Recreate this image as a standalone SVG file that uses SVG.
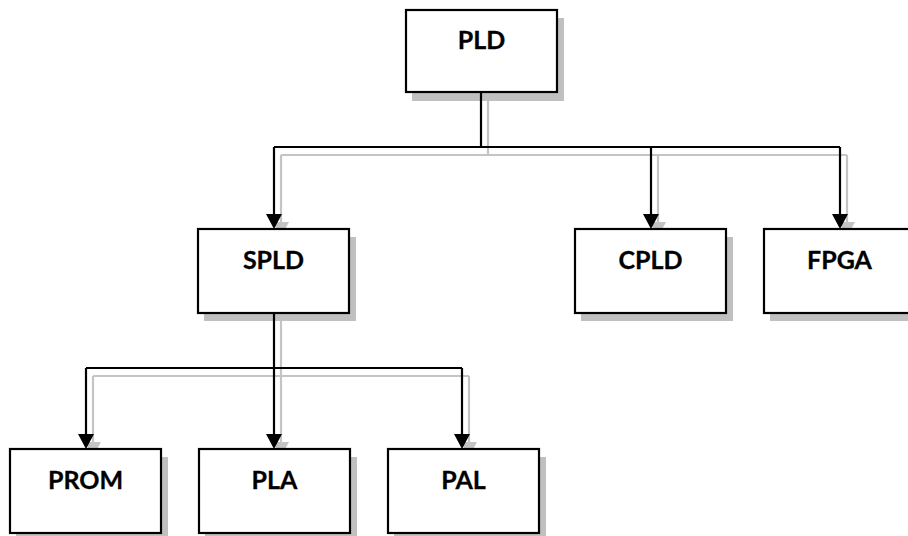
<svg xmlns="http://www.w3.org/2000/svg" xmlns:xlink="http://www.w3.org/1999/xlink" width="908" height="536" viewBox="0 0 908 536">
<style>
.box{fill:#fff;stroke:#000;stroke-width:2.2}
.shadow{fill:#c0c0c0;stroke:none}
.wire{fill:none;stroke:#000;stroke-width:2.2}
.wires{fill:none;stroke:#c4c4c4;stroke-width:2.2}
.lbl{font-family:Lato,"Liberation Sans",sans-serif;font-weight:bold;font-size:25px;text-anchor:middle;fill:#000;stroke:#000;stroke-width:0.3}
</style>
<defs>
<path id="ah" d="M-8,-15 L8,-15 L0,0 Z" fill="#000"/>
<path id="ahs" d="M-8,-15 L8,-15 L0,0 Z" fill="#c4c4c4"/>
</defs>
<rect width="908" height="536" fill="#fff"/>
<g id="connector-shadows">
<path class="wires" d="M488,100 V155 M281,155 H847 M281,155 V223 M658,155 V223 M847,155 V223"/>
<path class="wires" d="M281,321 V376 M93,376 H469 M93,376 V443 M281,376 V443 M469,376 V443"/>
<use xlink:href="#ahs" x="281" y="237"/>
<use xlink:href="#ahs" x="658" y="237"/>
<use xlink:href="#ahs" x="847" y="237"/>
<use xlink:href="#ahs" x="93" y="457"/>
<use xlink:href="#ahs" x="281" y="457"/>
<use xlink:href="#ahs" x="469" y="457"/>
</g>
<g id="box-shadows">
<rect class="shadow" x="412" y="18" width="152" height="83"/>
<rect class="shadow" x="204" y="237" width="152" height="84"/>
<rect class="shadow" x="581" y="237" width="152" height="84"/>
<rect class="shadow" x="770" y="237" width="152" height="84"/>
<rect class="shadow" x="16" y="457" width="152" height="84"/>
<rect class="shadow" x="205" y="457" width="152" height="84"/>
<rect class="shadow" x="394" y="457" width="152" height="84"/>
</g>
<g id="connectors">
<path class="wire" d="M481,92 V147 M274,147 H840 M274,147 V215 M651,147 V215 M840,147 V215"/>
<path class="wire" d="M274,313 V368 M86,368 H462 M86,368 V435 M274,368 V435 M462,368 V435"/>
<use xlink:href="#ah" x="274" y="229"/>
<use xlink:href="#ah" x="651" y="229"/>
<use xlink:href="#ah" x="840" y="229"/>
<use xlink:href="#ah" x="86" y="449"/>
<use xlink:href="#ah" x="274" y="449"/>
<use xlink:href="#ah" x="462" y="449"/>
</g>
<g id="node-pld">
<rect class="box" x="406" y="10" width="151" height="82"/>
<text class="lbl" x="481.5" y="49">PLD</text>
</g>
<g id="node-spld">
<rect class="box" x="198" y="229" width="151" height="84"/>
<text class="lbl" x="273.5" y="269">SPLD</text>
</g>
<g id="node-cpld">
<rect class="box" x="575" y="229" width="151" height="84"/>
<text class="lbl" x="650.5" y="269">CPLD</text>
</g>
<g id="node-fpga">
<rect class="box" x="764" y="229" width="151" height="84"/>
<text class="lbl" x="839.5" y="269">FPGA</text>
</g>
<g id="node-prom">
<rect class="box" x="10" y="449" width="151" height="84"/>
<text class="lbl" x="85.5" y="489">PROM</text>
</g>
<g id="node-pla">
<rect class="box" x="199" y="449" width="151" height="84"/>
<text class="lbl" x="274.5" y="489">PLA</text>
</g>
<g id="node-pal">
<rect class="box" x="388" y="449" width="151" height="84"/>
<text class="lbl" x="463.5" y="489">PAL</text>
</g>
</svg>
